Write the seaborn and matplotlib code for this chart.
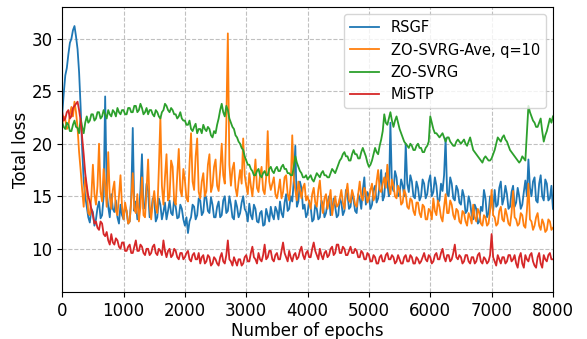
import numpy as np
import pandas as pd
import matplotlib
matplotlib.use("Agg")
import matplotlib.pyplot as plt
import seaborn as sns

# values every 25 epochs (0 .. 8000), one row = 500 epochs
epochs = list(range(0, 8001, 25))

rsgf = [
    22.8, 24.8, 26.5, 27.2, 28.5, 29.6, 30.0, 30.8, 31.2, 30.2, 29.0, 26.8, 23.5, 19.5, 16.5, 15.0, 14.0, 13.0, 12.5, 13.8,
    13.5, 12.2, 12.8, 13.9, 14.5, 12.9, 13.2, 15.0, 24.5, 15.5, 14.0, 13.0, 15.2, 13.8, 13.5, 14.6, 13.0, 12.4, 14.2, 13.2,
    12.8, 14.0, 13.6, 12.4, 12.6, 14.8, 21.5, 13.6, 14.5, 12.8, 13.2, 15.6, 19.0, 13.8, 14.0, 16.2, 15.5, 13.0, 13.4, 14.8,
    14.6, 12.6, 13.0, 14.8, 14.2, 12.8, 13.5, 14.4, 12.8, 13.6, 14.6, 13.4, 13.2, 14.8, 14.0, 12.9, 13.0, 14.2, 13.8, 12.8,
    12.2, 13.0, 11.5, 12.6, 13.0, 14.2, 14.0, 12.8, 13.2, 14.8, 14.6, 13.2, 13.5, 15.2, 14.8, 13.6, 13.4, 14.9, 14.2, 13.0,
    13.0, 14.0, 14.5, 13.0, 13.2, 14.6, 15.0, 13.4, 13.6, 15.0, 14.2, 13.0, 12.8, 14.6, 14.0, 13.0, 13.4, 14.4, 15.0, 13.8,
    13.5, 12.6, 14.3, 13.2, 12.8, 14.2, 13.8, 12.6, 12.5, 13.4, 13.6, 12.2, 12.3, 13.8, 13.2, 12.6, 14.0, 13.2, 12.8, 14.0,
    13.6, 12.8, 14.5, 13.4, 13.0, 14.4, 15.2, 13.6, 13.8, 15.0, 14.5, 16.5, 19.8, 14.0, 14.5, 16.4, 15.8, 13.8, 14.2, 13.0,
    13.4, 14.6, 14.0, 12.6, 12.8, 14.2, 13.8, 12.8, 13.0, 14.6, 14.2, 13.0, 13.4, 14.4, 15.0, 13.2, 13.6, 14.8, 14.0, 13.0,
    13.2, 14.8, 14.4, 13.2, 13.6, 15.6, 15.2, 13.8, 14.0, 15.4, 14.6, 13.6, 13.4, 15.2, 14.8, 13.8, 15.6, 16.8, 14.2, 15.4,
    15.0, 13.8, 14.2, 15.6, 16.0, 14.4, 14.8, 16.2, 17.5, 14.6, 15.0, 17.2, 16.2, 15.0, 22.0, 16.0, 15.5, 17.4, 16.8, 15.0,
    15.2, 16.6, 16.0, 15.0, 20.0, 16.2, 15.4, 17.0, 16.4, 15.0, 14.8, 16.4, 15.8, 14.6, 15.0, 16.6, 16.2, 14.8, 15.2, 16.4,
    17.0, 15.0, 15.4, 16.8, 16.0, 14.4, 14.6, 16.2, 15.5, 17.0, 20.5, 15.2, 15.0, 16.8, 16.2, 14.8, 14.6, 16.0, 15.6, 14.4,
    14.2, 15.6, 15.0, 13.4, 13.6, 15.0, 14.4, 13.2, 12.8, 14.2, 13.8, 12.4, 12.6, 14.0, 13.6, 15.6, 14.8, 13.0, 13.4, 15.0,
    14.5, 13.6, 15.6, 14.0, 14.2, 15.8, 16.4, 14.2, 14.8, 16.0, 15.2, 13.8, 14.0, 15.4, 16.0, 14.0, 14.4, 15.8, 15.0, 13.8,
    14.2, 15.4, 16.5, 15.0, 18.5, 15.8, 15.0, 16.4, 16.8, 14.6, 14.4, 16.2, 17.0, 15.0, 14.6, 16.6, 16.2, 14.6, 14.8, 16.0,
    13.8,
]

zo_svrg_ave = [
    21.8, 22.6, 22.3, 21.4, 21.6, 22.8, 23.5, 22.6, 24.0, 23.0, 21.5, 19.2, 17.5, 15.6, 14.0, 16.8, 15.8, 13.4, 13.2, 15.0,
    18.0, 15.2, 14.2, 16.0, 20.0, 15.4, 14.5, 17.6, 16.2, 14.0, 19.2, 15.0, 13.8, 15.6, 16.4, 13.6, 13.2, 15.0, 17.0, 14.0,
    12.8, 14.4, 13.6, 12.4, 12.6, 14.6, 17.2, 13.8, 13.4, 15.2, 12.6, 14.0, 16.8, 13.2, 13.0, 15.6, 18.5, 14.2, 12.8, 14.4,
    15.5, 14.0, 13.4, 17.6, 22.5, 16.0, 14.2, 16.8, 19.0, 14.6, 15.0, 18.4, 17.8, 14.6, 14.2, 17.0, 19.5, 15.6, 15.0, 17.6,
    16.5, 14.8, 14.5, 18.0, 21.0, 16.4, 15.6, 18.8, 20.5, 15.4, 14.8, 16.4, 17.2, 15.0, 15.5, 18.0, 19.0, 15.4, 16.0, 17.8,
    18.5, 16.0, 15.5, 17.4, 20.0, 17.0, 16.2, 22.0, 30.5, 18.0, 16.0, 17.6, 18.2, 15.8, 15.0, 16.4, 17.5, 16.2, 20.5, 17.0,
    16.0, 15.2, 17.2, 16.0, 15.0, 16.6, 18.5, 15.8, 15.4, 17.0, 17.8, 15.6, 15.2, 16.8, 21.2, 16.4, 15.6, 16.2, 16.8, 15.2,
    14.8, 15.6, 16.6, 14.8, 15.4, 16.8, 17.0, 15.2, 14.6, 16.2, 20.8, 16.6, 15.6, 14.6, 16.4, 15.6, 14.8, 15.8, 16.2, 14.6,
    15.0, 14.4, 13.8, 15.2, 15.8, 14.4, 14.0, 15.6, 16.5, 14.6, 13.4, 14.8, 15.2, 13.8, 14.6, 15.6, 13.2, 14.2, 15.0, 14.0,
    14.2, 14.8, 15.6, 14.4, 13.8, 15.2, 16.2, 14.6, 14.4, 15.6, 15.0, 14.2, 14.0, 15.2, 16.4, 15.0, 14.6, 15.8, 15.4, 14.4,
    14.8, 15.6, 16.2, 14.6, 15.0, 16.4, 17.5, 15.6, 15.4, 16.2, 16.8, 15.8, 18.0, 16.2, 15.2, 16.6, 16.0, 15.0, 14.8, 16.0,
    15.6, 14.2, 14.4, 15.6, 15.2, 14.0, 13.8, 14.8, 14.6, 13.6, 13.2, 14.4, 14.4, 13.4, 13.0, 14.2, 14.0, 12.8, 12.8, 13.8,
    13.6, 12.8, 14.8, 13.6, 13.2, 14.6, 14.0, 13.0, 12.6, 14.0, 15.2, 13.4, 13.4, 14.6, 14.2, 13.2, 12.8, 13.8, 13.6, 12.6,
    12.4, 13.6, 13.4, 12.6, 12.2, 13.4, 13.0, 12.4, 14.2, 13.0, 12.6, 13.8, 13.4, 12.4, 12.2, 13.2, 13.0, 12.2, 12.4, 13.6,
    15.6, 13.2, 13.0, 12.2, 12.4, 13.6, 14.0, 12.8, 12.6, 13.8, 13.2, 12.4, 12.2, 13.4, 15.5, 13.0, 12.8, 12.2, 12.4, 13.4,
    13.2, 12.2, 12.0, 13.6, 16.2, 12.8, 12.6, 11.8, 12.2, 13.0, 13.4, 12.2, 11.8, 12.8, 12.4, 11.6, 11.8, 12.8, 12.6, 11.8,
    12.0,
]

zo_svrg = [
    22.0, 21.6, 21.4, 22.0, 21.8, 21.2, 21.2, 21.8, 22.2, 21.6, 21.5, 21.0, 22.4, 21.6, 21.0, 22.0, 22.6, 22.0, 22.2, 22.8,
    22.8, 22.2, 22.4, 23.0, 23.0, 22.4, 22.6, 23.2, 22.8, 22.4, 23.2, 22.8, 22.6, 23.2, 23.0, 22.6, 23.4, 23.0, 22.8, 23.2,
    23.2, 22.8, 22.8, 23.4, 23.4, 23.0, 23.0, 23.6, 23.6, 23.0, 23.2, 23.8, 23.4, 22.8, 23.0, 23.4, 22.8, 23.2, 23.2, 22.8,
    22.6, 23.2, 23.0, 22.6, 22.4, 23.0, 23.2, 23.8, 23.6, 23.2, 23.0, 23.4, 23.2, 22.8, 22.8, 22.4, 22.6, 23.0, 22.4, 22.2,
    22.2, 21.8, 21.8, 22.2, 21.4, 21.2, 21.6, 21.9, 21.0, 21.4, 21.4, 21.0, 21.8, 21.4, 21.2, 21.6, 21.4, 20.8, 20.6, 21.2,
    21.0, 21.8, 22.4, 23.2, 23.8, 23.0, 22.6, 23.6, 23.2, 22.4, 22.0, 21.6, 21.4, 20.8, 20.6, 20.2, 20.0, 19.6, 19.4, 18.8,
    18.4, 18.0, 18.0, 17.6, 17.4, 17.0, 17.0, 17.4, 17.6, 17.0, 16.8, 17.2, 17.4, 17.0, 17.0, 17.6, 17.8, 17.4, 17.2, 17.6,
    17.8, 17.4, 17.4, 17.8, 18.0, 17.6, 17.6, 17.2, 17.2, 17.0, 17.0, 17.8, 18.8, 18.2, 17.8, 17.4, 17.2, 16.8, 16.8, 17.0,
    16.6, 16.8, 17.0, 16.6, 16.4, 16.8, 17.2, 17.0, 16.8, 17.2, 17.4, 17.0, 17.0, 16.8, 16.8, 17.2, 17.6, 17.4, 17.2, 17.6,
    18.0, 18.4, 18.6, 19.0, 19.2, 18.8, 18.8, 18.4, 18.4, 19.0, 19.4, 19.0, 19.0, 18.6, 18.6, 19.2, 19.6, 19.2, 18.8, 18.2,
    17.8, 18.0, 18.4, 19.0, 19.6, 19.2, 19.0, 19.8, 20.4, 21.2, 22.8, 22.0, 21.8, 22.4, 23.0, 22.2, 21.6, 22.2, 22.6, 22.0,
    21.4, 21.0, 20.6, 20.2, 20.0, 19.8, 19.6, 20.0, 19.8, 19.4, 19.4, 19.8, 20.0, 19.6, 19.6, 19.2, 19.2, 19.6, 19.8, 20.2,
    22.6, 22.0, 21.4, 21.0, 21.0, 20.8, 20.6, 20.8, 21.0, 20.6, 20.2, 20.6, 20.6, 20.2, 20.0, 19.8, 19.8, 20.2, 20.4, 20.2,
    20.0, 20.2, 20.4, 20.0, 19.8, 20.2, 20.6, 20.0, 19.4, 19.2, 19.0, 18.8, 18.6, 18.4, 18.2, 18.6, 18.8, 18.6, 18.4, 18.4,
    18.6, 19.0, 19.4, 20.0, 20.6, 20.4, 20.2, 20.6, 20.8, 20.4, 20.2, 19.8, 19.4, 19.2, 19.0, 18.8, 18.6, 18.4, 18.2, 18.4,
    18.8, 18.6, 18.4, 21.0, 23.6, 23.0, 22.6, 22.2, 22.0, 21.6, 21.6, 22.0, 22.4, 21.2, 20.2, 20.8, 21.2, 21.8, 22.4, 22.0,
    22.6,
]

mistp = [
    23.0, 22.2, 22.4, 23.0, 23.2, 22.4, 22.6, 23.4, 23.6, 23.8, 24.0, 23.2, 22.2, 20.6, 19.0, 17.2, 16.0, 15.0, 14.5, 13.8,
    13.2, 12.4, 12.6, 12.0, 11.8, 12.6, 12.4, 11.4, 11.2, 11.6, 10.8, 10.4, 11.4, 10.6, 10.4, 11.0, 10.8, 10.2, 10.0, 10.6,
    10.6, 9.8, 9.8, 10.2, 10.4, 9.6, 9.6, 10.2, 10.8, 9.8, 9.8, 10.4, 10.2, 9.6, 9.4, 10.0, 10.0, 9.4, 9.6, 10.2,
    10.4, 9.6, 9.4, 10.0, 9.8, 9.4, 10.8, 9.8, 9.2, 9.8, 10.0, 9.2, 9.4, 10.0, 9.8, 9.2, 9.0, 9.6, 9.6, 9.0,
    9.2, 9.6, 9.8, 9.0, 8.8, 9.4, 9.6, 9.0, 9.0, 9.6, 8.6, 9.2, 9.4, 8.6, 8.8, 9.4, 9.2, 8.4, 8.6, 9.2,
    9.0, 8.6, 8.4, 9.2, 9.6, 8.8, 8.6, 9.4, 10.8, 9.0, 8.8, 8.4, 9.2, 8.8, 8.4, 9.0, 9.0, 8.4, 8.6, 9.2,
    9.4, 8.8, 8.8, 9.6, 10.2, 9.2, 9.0, 8.6, 9.6, 9.0, 8.8, 9.4, 10.4, 9.0, 9.2, 9.8, 9.8, 9.0, 8.8, 9.4,
    9.6, 9.0, 9.0, 9.8, 10.6, 9.6, 9.2, 8.8, 9.8, 9.2, 8.8, 9.4, 9.6, 9.0, 9.2, 9.8, 10.2, 9.4, 9.0, 9.6,
    9.8, 9.2, 9.2, 10.0, 10.6, 9.8, 9.4, 9.0, 10.0, 9.4, 9.0, 9.6, 9.8, 9.2, 9.4, 10.0, 10.2, 9.4, 9.6, 10.4,
    10.4, 9.6, 9.6, 10.2, 10.0, 9.4, 9.4, 9.8, 10.2, 9.6, 9.6, 10.0, 9.8, 9.2, 9.2, 9.8, 9.6, 9.0, 9.0, 9.6,
    9.4, 8.8, 8.8, 9.4, 9.2, 8.6, 8.6, 9.2, 9.4, 8.8, 8.8, 9.4, 9.6, 9.0, 9.0, 9.4, 9.2, 8.6, 8.8, 9.4,
    9.0, 8.6, 8.6, 9.2, 9.4, 8.8, 8.8, 9.4, 9.2, 8.6, 8.6, 9.2, 9.0, 8.6, 8.8, 9.2, 9.6, 9.0, 8.8, 9.4,
    9.2, 8.6, 8.8, 9.4, 9.6, 9.0, 9.0, 9.6, 10.0, 9.2, 8.8, 9.4, 9.4, 8.8, 9.0, 9.6, 10.4, 9.2, 9.0, 9.4,
    9.2, 8.6, 8.8, 9.4, 9.4, 8.8, 8.6, 9.2, 9.2, 8.6, 8.8, 9.4, 9.6, 8.8, 8.6, 9.2, 9.0, 8.6, 8.8, 9.4,
    11.4, 9.2, 8.8, 8.4, 9.4, 9.0, 8.6, 9.2, 9.2, 8.6, 8.8, 9.4, 9.4, 8.8, 9.0, 9.4, 8.6, 8.2, 9.2, 9.6,
    8.6, 8.2, 9.4, 9.0, 8.8, 9.4, 9.6, 8.8, 8.4, 8.2, 9.2, 9.6, 8.6, 8.2, 9.4, 9.0, 8.8, 9.4, 9.6, 9.0,
    9.0,
]

methods = ["RSGF", "ZO-SVRG-Ave, q=10", "ZO-SVRG", "MiSTP"]
palette = ["#1f77b4", "#ff7f0e", "#2ca02c", "#d62728"]

df = pd.concat([
    pd.DataFrame({"epoch": epochs, "loss": vals, "method": name})
    for name, vals in zip(methods, [rsgf, zo_svrg_ave, zo_svrg, mistp])
], ignore_index=True)

plt.rcParams["font.family"] = ["DejaVu Sans"]
fig, ax = plt.subplots(figsize=(5.87, 3.39), dpi=100)
fig.subplots_adjust(left=0.106, right=0.942, top=0.979, bottom=0.139)

sns.lineplot(ax=ax, data=df, x="epoch", y="loss", hue="method",
             hue_order=methods, palette=palette, linewidth=1.3)

ax.set_xlim(0, 8000)
ax.set_ylim(5.9, 33.0)
ax.set_xticks(range(0, 8001, 1000))
ax.set_yticks([10, 15, 20, 25, 30])
ax.grid(True, linestyle="--", color="#c0c0c0", linewidth=0.8)
ax.tick_params(labelsize=12)

ax.set_xlabel("Number of epochs", fontsize=12, labelpad=2)
ax.set_ylabel("Total loss", fontsize=12, labelpad=1)
ax.legend(loc="upper right", fontsize=10.5, title=None)

fig.savefig("out.png", dpi=100)
